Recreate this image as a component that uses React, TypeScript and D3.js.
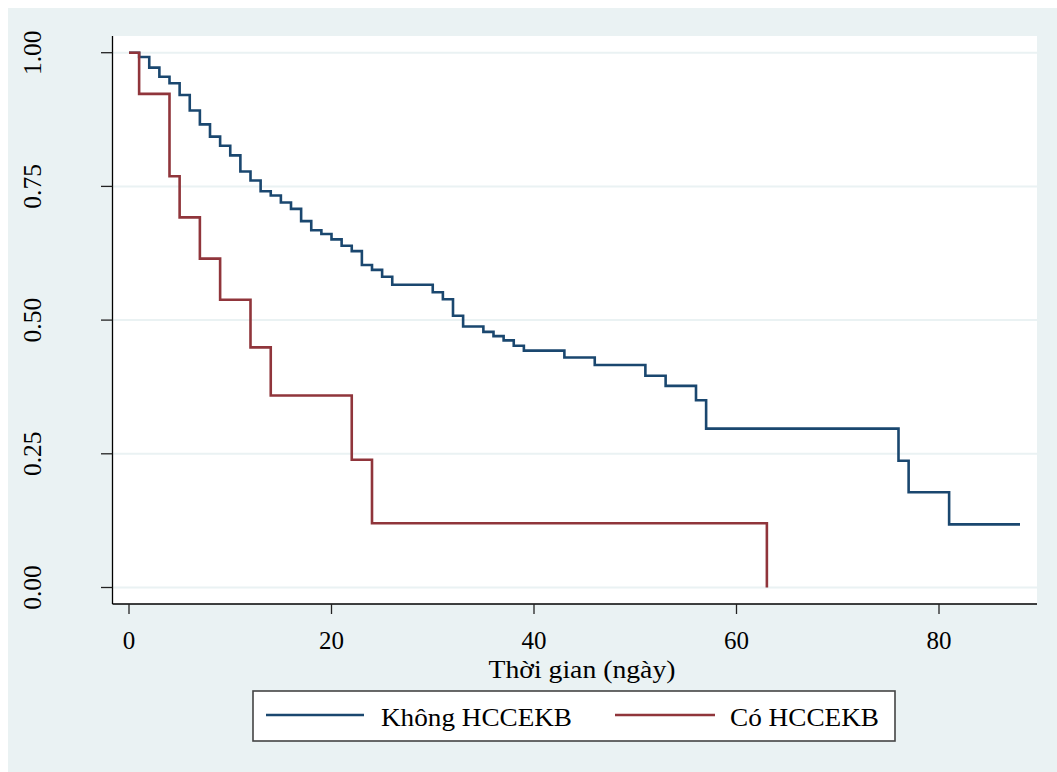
import React from "react";
import * as d3 from "d3";

// Kaplan–Meier estimates
const blueTimes = [0, 1, 2, 3, 4, 5, 6, 7, 8, 9, 10, 11, 12, 13, 14, 15, 16, 17, 18, 19, 20, 21, 22, 23, 24, 25, 26, 30, 31, 32, 33, 35, 36, 37, 38, 39, 43, 46, 51, 53, 56, 57, 76, 77, 81, 88];
const blueSurv = [1.0, 0.992, 0.972, 0.955, 0.943, 0.921, 0.892, 0.866, 0.843, 0.826, 0.808, 0.778, 0.761, 0.741, 0.733, 0.72, 0.708, 0.685, 0.668, 0.661, 0.651, 0.639, 0.629, 0.603, 0.594, 0.581, 0.566, 0.552, 0.539, 0.508, 0.488, 0.478, 0.47, 0.462, 0.452, 0.443, 0.43, 0.416, 0.396, 0.377, 0.35, 0.297, 0.237, 0.178, 0.118, 0.118];

const redTimes = [0, 1, 4, 5, 7, 9, 12, 14, 22, 24, 63];
const redSurv = [1.0, 0.923, 0.769, 0.692, 0.615, 0.538, 0.449, 0.359, 0.239, 0.12, 0.0];

const xTicks = [0, 20, 40, 60, 80];
const yTicks = [0, 0.25, 0.5, 0.75, 1.0];
const xTitle = "Thời gian (ngày)";
const seriesNames = ["Không HCCEKB", "Có HCCEKB"];

const BLUE = "#1a476f";
const RED = "#90353b";
const BG = "#eaf2f3";
const FONT = "'Liberation Serif', 'Times New Roman', serif";

export default function App() {
  const x = d3.scaleLinear().domain([0, 80]).range([129, 939]);
  const y = d3.scaleLinear().domain([0, 1]).range([587.5, 52.7]);

  const plotL = 112.5, plotR = 1037, plotT = 36, plotB = 604;

  const line = d3
    .line<[number, number]>()
    .x((d) => x(d[0]))
    .y((d) => y(d[1]))
    .curve(d3.curveStepAfter);

  const blueData: [number, number][] = blueTimes.map((t, i) => [t, blueSurv[i]]);
  const redData: [number, number][] = redTimes.map((t, i) => [t, redSurv[i]]);

  return (
    <svg
      width={1057}
      height={772}
      style={{ position: "absolute", left: 0, top: 0 }}
      fontFamily={FONT}
    >
      <rect x={0} y={0} width={1057} height={772} fill="#ffffff" />
      <rect x={8} y={8} width={1049} height={764} fill={BG} />
      <rect x={plotL} y={plotT} width={plotR - plotL} height={plotB - plotT} fill="#ffffff" />

      {/* gridlines */}
      {yTicks.map((v) => (
        <line key={"g" + v} x1={plotL} x2={plotR} y1={y(v)} y2={y(v)} stroke={BG} strokeWidth={2} />
      ))}

      {/* curves */}
      <path d={line(blueData) || ""} fill="none" stroke={BLUE} strokeWidth={2.6} strokeLinejoin="miter" />
      <path d={line(redData) || ""} fill="none" stroke={RED} strokeWidth={2.6} strokeLinejoin="miter" />

      {/* axes */}
      <line x1={plotL} x2={plotL} y1={plotT} y2={plotB} stroke="#000" strokeWidth={1.3} />
      <line x1={plotL} x2={plotR} y1={plotB} y2={plotB} stroke="#000" strokeWidth={1.3} />

      {yTicks.map((v) => (
        <g key={"yt" + v}>
          <line x1={101} x2={plotL} y1={y(v)} y2={y(v)} stroke="#222" strokeWidth={1.3} />
          <text
            transform={`translate(41,${y(v)}) rotate(-90)`}
            textAnchor="middle"
            fontSize={25.5}
            fill="#000"
          >
            {v.toFixed(2)}
          </text>
        </g>
      ))}

      {xTicks.map((t) => (
        <g key={"xt" + t}>
          <line x1={x(t)} x2={x(t)} y1={plotB} y2={614} stroke="#222" strokeWidth={1.3} />
          <text x={x(t)} y={649} textAnchor="middle" fontSize={25} fill="#000">
            {t}
          </text>
        </g>
      ))}

      <text x={582} y={678} textAnchor="middle" fontSize={26} fill="#000" textLength={187} lengthAdjust="spacingAndGlyphs">
        {xTitle}
      </text>

      {/* legend */}
      <rect x={253} y={691} width={642} height={50} fill="#ffffff" stroke="#444" strokeWidth={1.6} />
      <line x1={266} x2={364} y1={715} y2={715} stroke={BLUE} strokeWidth={2.6} />
      <text x={381} y={726} fontSize={26} fill="#000" textLength={191} lengthAdjust="spacingAndGlyphs">
        {seriesNames[0]}
      </text>
      <line x1={615} x2={715} y1={715} y2={715} stroke={RED} strokeWidth={2.6} />
      <text x={730} y={726} fontSize={26} fill="#000" textLength={149} lengthAdjust="spacingAndGlyphs">
        {seriesNames[1]}
      </text>
    </svg>
  );
}
